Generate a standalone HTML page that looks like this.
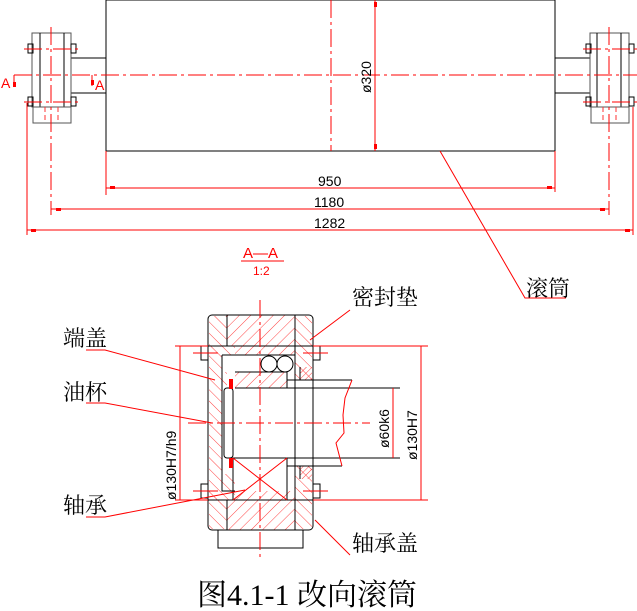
<!DOCTYPE html>
<html><head><meta charset="utf-8"><style>
html,body{margin:0;padding:0;background:#fff;}
svg{display:block;}
.k{stroke:#000;stroke-width:1;fill:none;}
.g{stroke:#555;stroke-width:1;fill:none;}
.r{stroke:#f00;stroke-width:1;fill:none;}
.cl{stroke:#f00;stroke-width:1;fill:none;stroke-dasharray:18 4 3 4;}
.dl{stroke:#f33;stroke-width:1;fill:none;stroke-dasharray:5 3;}
.t{font-family:"Liberation Sans",sans-serif;font-size:14px;fill:#000;}
.c{font-family:"Liberation Serif","Noto Serif CJK SC",serif;fill:#000;}
</style></head><body>
<svg width="637" height="611" viewBox="0 0 637 611" xmlns="http://www.w3.org/2000/svg">
<defs>
<pattern id="h1" width="8" height="8" patternUnits="userSpaceOnUse" patternTransform="rotate(45)"><line x1="0" y1="0" x2="0" y2="8" stroke="#f44" stroke-width="1"/></pattern>
<pattern id="h2" width="8" height="8" patternUnits="userSpaceOnUse" patternTransform="rotate(-45)"><line x1="0" y1="0" x2="0" y2="8" stroke="#f44" stroke-width="1"/></pattern>
<pattern id="h3" width="4" height="4" patternUnits="userSpaceOnUse" patternTransform="rotate(45)"><line x1="0" y1="0" x2="0" y2="4" stroke="#f44" stroke-width="1"/></pattern>
</defs>

<rect x="106" y="0" width="449" height="151" class="k"/>
<path d="M71 58H106M71 93H106" class="k"/>
<path d="M555 58H590M555 93H590" class="k"/>
<rect x="32" y="33" width="39" height="74" class="g"/>
<path d="M40 33V107M64 33V107" class="k"/>
<rect x="33" y="107" width="38" height="16" class="g"/>
<path d="M45 107V123M58 107V123" class="dl"/>
<rect x="28" y="44" width="5" height="9" class="k"/><rect x="71" y="44" width="5" height="9" class="k"/>
<rect x="28" y="97" width="5" height="9" class="k"/><rect x="71" y="97" width="5" height="9" class="k"/>
<path d="M24 49H80M24 102H80" class="cl"/>
<rect x="590" y="33" width="39" height="74" class="g"/>
<path d="M597 33V107M621 33V107" class="k"/>
<rect x="591" y="107" width="38" height="16" class="g"/>
<path d="M603 107V123M616 107V123" class="dl"/>
<rect x="586" y="44" width="5" height="9" class="k"/><rect x="629" y="44" width="5" height="9" class="k"/>
<rect x="586" y="97" width="5" height="9" class="k"/><rect x="629" y="97" width="5" height="9" class="k"/>
<path d="M583 49H637M583 102H637" class="cl"/>
<path d="M14 75H637" class="cl"/>
<path d="M51 27V215" class="cl"/>
<path d="M609 27V215" class="cl"/>
<path d="M331 0V151" class="cl"/>
<path d="M14 75V86M92 75V86" class="r"/>
<rect x="13" y="82" width="3" height="5" fill="#f00"/><rect x="91" y="80" width="3" height="5" fill="#f00"/>
<text x="1" y="88" font-family="Liberation Sans,sans-serif" font-size="14" fill="#f00">A</text>
<text x="95" y="90" font-family="Liberation Sans,sans-serif" font-size="14" fill="#f00">A</text>
<path d="M375 0V151" class="r"/>
<rect x="374" y="2" width="3" height="5" fill="#f00"/><rect x="374" y="144" width="3" height="5" fill="#f00"/>
<text class="t" transform="translate(371,93) rotate(-90)">ø320</text>
<path d="M106 151V195M555 151V192M27 103V235M633 107V235" class="r"/>
<path d="M106 188H555M51 209H609M27 230H633" class="r"/>
<rect x="110" y="186" width="5" height="3" fill="#f00"/><rect x="547" y="186" width="5" height="3" fill="#f00"/>
<rect x="56" y="208" width="5" height="3" fill="#f00"/><rect x="600" y="208" width="5" height="3" fill="#f00"/>
<rect x="31" y="229" width="5" height="3" fill="#f00"/><rect x="625" y="229" width="5" height="3" fill="#f00"/>
<text class="t" x="318" y="186">950</text>
<text class="t" x="314" y="207">1180</text>
<text class="t" x="314" y="228">1282</text>
<path d="M440 151L525 298H566" class="r"/>
<text class="c" x="526" y="296" font-size="22">滚筒</text>

<text x="243" y="258" font-family="Liberation Sans,sans-serif" font-size="15" fill="#f00">A—A</text>
<path d="M241 261H284" class="r"/>
<text x="253" y="275" font-family="Liberation Sans,sans-serif" font-size="12" fill="#f00">1:2</text>

<rect x="227" y="315" width="68" height="31" fill="url(#h1)"/>
<rect x="227" y="500" width="68" height="30" fill="url(#h1)"/>
<rect x="209" y="316" width="18" height="213" fill="url(#h2)"/>
<rect x="227" y="346" width="8" height="26" fill="url(#h2)"/>
<rect x="227" y="474" width="8" height="26" fill="url(#h2)"/>
<rect x="235" y="346" width="60" height="9" fill="url(#h1)"/>
<rect x="235" y="491" width="60" height="9" fill="url(#h1)"/>
<rect x="235" y="372" width="52" height="16" fill="url(#h1)"/>
<rect x="295" y="316" width="17" height="213" fill="url(#h2)"/>
<rect x="300" y="367" width="12" height="13" fill="url(#h3)"/>
<rect x="300" y="466" width="12" height="13" fill="url(#h3)"/>
<rect x="222" y="355" width="65" height="17" fill="#fff"/>
<rect x="222" y="388" width="65" height="86" fill="#fff"/>
<rect x="287" y="380" width="26" height="86" fill="#fff"/>
<rect x="208" y="315" width="105" height="215" rx="4" class="k"/>
<path d="M227 315V346M295 315V346M227 500V530M295 500V530M208 346H313M208 500H313" class="k"/>
<path d="M222 355H295M222 355V491H235M235 372H287M235 388H287M287 372V388M295 346V500M300 367V380M300 466V479" class="k"/>
<rect x="218" y="530" width="85" height="18" class="k"/>
<circle cx="269" cy="364" r="8" class="k" fill="#fff"/>
<circle cx="285" cy="364" r="8" class="k" fill="#fff"/>
<rect x="233" y="458" width="54" height="42" class="k"/>
<path d="M233 458L287 500M287 458L233 500" class="r"/>
<rect x="224" y="388" width="9" height="70" rx="3" class="k"/>
<rect x="229" y="379" width="4" height="10" fill="#f00"/><rect x="229" y="458" width="4" height="10" fill="#f00"/>
<path d="M287 380H352M287 466H342M287 388H400M287 458H400" class="k"/>
<path d="M352 380L345 398L343 415L344 433L336 443L342 466" class="r"/>
<rect x="201" y="346" width="7" height="14" class="k"/><rect x="313" y="346" width="7" height="14" class="k"/>
<rect x="201" y="484" width="7" height="14" class="k"/><rect x="313" y="484" width="7" height="14" class="k"/>
<path d="M193 353H218M303 353H328M193 491H218M303 491H328" class="r"/>
<path d="M260 300V560" class="cl"/>
<path d="M188 423H370" class="cl"/>
<path d="M175 346H208M175 500H208M313 346H428M313 500H428" class="r"/>
<path d="M180 346V500M421 346V500M393 388V458" class="r"/>
<text class="t" transform="translate(176,500) rotate(-90)">ø130H7/h9</text>
<text class="t" transform="translate(389,448) rotate(-90)">ø60k6</text>
<text class="t" transform="translate(417,460) rotate(-90)">ø130H7</text>
<text class="c" x="63" y="346" font-size="22">端盖</text>
<path d="M86 350H105L215 380" class="r"/>
<text class="c" x="63" y="400" font-size="22">油杯</text>
<path d="M86 403H105L212 423" class="r"/>
<text class="c" x="63" y="513" font-size="22">轴承</text>
<path d="M86 517H105L245 490" class="r"/>
<text class="c" x="352" y="305" font-size="22">密封垫</text>
<path d="M350 310L310 340" class="r"/>
<text class="c" x="352" y="551" font-size="22">轴承盖</text>
<path d="M350 555L315 520" class="r"/>
<text class="c" x="197" y="605" font-size="30">图4.1-1  改向滚筒</text>
</svg>
</body></html>
